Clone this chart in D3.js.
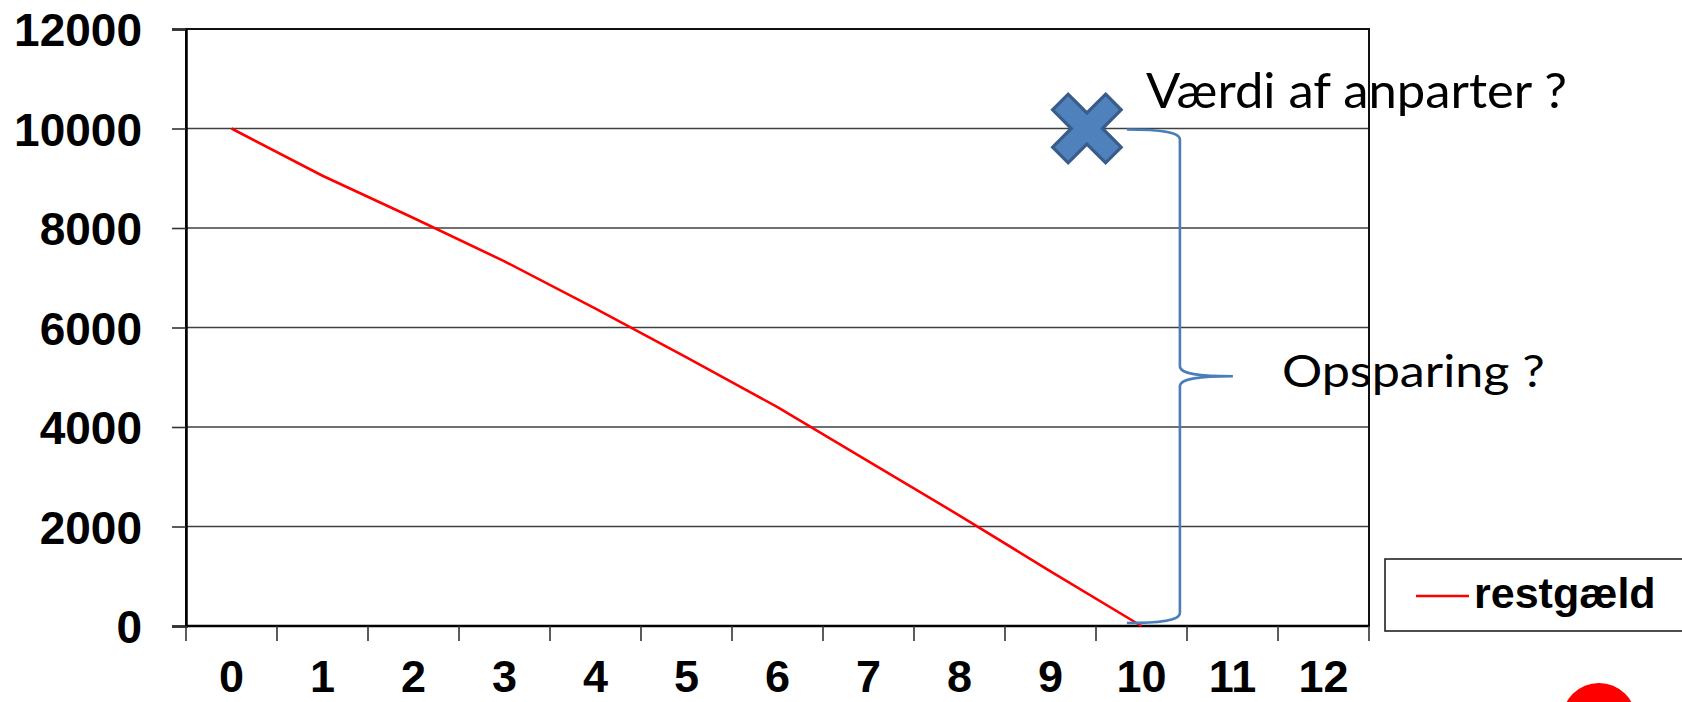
<!DOCTYPE html>
<html>
<head>
<meta charset="utf-8">
<script src="https://cdn.jsdelivr.net/npm/d3@7/dist/d3.min.js"></script>
<style>
  html, body { margin: 0; padding: 0; background: #fff; overflow: hidden; }
  svg { display: block; }
</style>
</head>
<body>
<svg id="chart" width="1682" height="702"></svg>
<script>
// ---- data ----
const categories = ["0","1","2","3","4","5","6","7","8","9","10","11","12"];
const restgaeldYears = ["0","1","2","3","4","5","6","7","8","9","10"];
const restgaeld = [10000, 9050, 8200, 7330, 6380, 5400, 4400, 3310, 2220, 1100, 0];
const yTicks = [0, 2000, 4000, 6000, 8000, 10000, 12000];
const seriesName = "restgæld";
const annoValueLabel = "Værdi af anparter ?";
const annoSavingLabel = "Opsparing ?";
const anparterValue = 10000;
const anparterPos = 9.4; // category-index position of the marker

// ---- layout ----
const svg = d3.select("#chart");
const L = 186, R = 1369, T = 29, B = 626;

const x = d3.scaleBand().domain(categories).range([L, R]).paddingInner(0).paddingOuter(0);
const xc = d => x(d) + x.bandwidth() / 2;
const xIdx = d3.scaleLinear().domain([-0.5, categories.length - 0.5]).range([L, R]);
const y = d3.scaleLinear().domain([0, 12000]).range([B, T]);

// gridlines
svg.append("g").selectAll("line").data(yTicks).join("line")
  .attr("x1", L).attr("x2", R)
  .attr("y1", d => y(d)).attr("y2", d => y(d))
  .attr("stroke", "#404040").attr("stroke-width", 1.7);

// plot border
svg.append("rect").attr("x", L).attr("y", T).attr("width", R - L).attr("height", B - T)
  .attr("fill", "none").attr("stroke", "#111").attr("stroke-width", 2);

// y axis
const yAxis = d3.axisLeft(y).tickValues(yTicks).tickSize(14).tickPadding(30).tickFormat(d3.format("d"));
const gy = svg.append("g").attr("transform", `translate(${L},0)`).call(yAxis);
gy.select(".domain").attr("stroke", "#000").attr("stroke-width", 2.5);
gy.selectAll(".tick line").attr("stroke", "#333").attr("stroke-width", 1.6);
gy.selectAll(".tick text")
  .attr("font-family", "'Liberation Sans', Arial, sans-serif")
  .attr("font-weight", "bold").attr("font-size", 46).attr("fill", "#000")
  .attr("x", -44).attr("dy", "0.36em");

// x axis (ticks at band boundaries, labels centered)
const gx = svg.append("g").attr("transform", `translate(0,${B})`);
gx.append("line").attr("x1", L).attr("x2", R).attr("y1", 0).attr("y2", 0)
  .attr("stroke", "#000").attr("stroke-width", 2.5);
const bounds = categories.map(c => x(c)).concat([x(categories[categories.length - 1]) + x.bandwidth()]);
gx.selectAll("line.tk").data(bounds).join("line").attr("class", "tk")
  .attr("x1", d => d).attr("x2", d => d).attr("y1", 0).attr("y2", 15)
  .attr("stroke", "#333").attr("stroke-width", 1.6);
gx.selectAll("text").data(categories).join("text")
  .attr("x", d => xc(d)).attr("y", 66)
  .attr("text-anchor", "middle")
  .attr("font-family", "'Liberation Sans', Arial, sans-serif")
  .attr("font-weight", "bold").attr("font-size", 45).attr("fill", "#000")
  .text(d => d);

// line
const line = d3.line().x((d, i) => xc(restgaeldYears[i])).y(d => y(d));
svg.append("path").datum(restgaeld)
  .attr("d", line).attr("fill", "none")
  .attr("stroke", "#FF0000").attr("stroke-width", 2.6);

// marker X
const mx = xIdx(anparterPos), my = y(anparterValue);
const a = 37.5, w = 11;
const plus = [[-w,-a],[w,-a],[w,-w],[a,-w],[a,w],[w,w],[w,a],[-w,a],[-w,w],[-a,w],[-a,-w],[-w,-w]];
svg.append("path")
  .attr("d", "M" + plus.map(p => p.join(",")).join("L") + "Z")
  .attr("transform", `translate(${mx},${my}) rotate(45)`)
  .attr("fill", "#4F81BD").attr("stroke", "#385D8A").attr("stroke-width", 3.2).attr("stroke-linejoin", "miter");

// brace
const bTop = y(anparterValue) + 1, bBot = y(0) - 3, bMid = (bTop + bBot) / 2;
const bx0 = mx + 40, bx1 = mx + 93, bTip = mx + 146;
const br = 10;
const bracePath = [
  `M${bx0},${bTop}`,
  `C${bx0 + 30},${bTop} ${bx1},${bTop + 2} ${bx1},${bTop + br}`,
  `L${bx1},${bMid - br}`,
  `C${bx1},${bMid - 2} ${bx1 + 20},${bMid} ${bTip},${bMid}`,
  `C${bx1 + 20},${bMid} ${bx1},${bMid + 2} ${bx1},${bMid + br}`,
  `L${bx1},${bBot - br}`,
  `C${bx1},${bBot - 2} ${bx0 + 30},${bBot} ${bx0},${bBot}`
].join(" ");
svg.append("path").attr("d", bracePath).attr("fill", "none")
  .attr("stroke", "#4A7EBB").attr("stroke-width", 2.6);

// annotation texts (Calibri-like look: taller glyphs, fitted width)
function fitText(txt, xPos, yPos, size, targetW) {
  return svg.append("text").attr("x", xPos).attr("y", yPos)
    .attr("font-family", "Lato, 'Open Sans', sans-serif")
    .attr("font-size", size).attr("fill", "#000")
    .attr("textLength", targetW).attr("lengthAdjust", "spacingAndGlyphs")
    .text(txt);
}
fitText(annoValueLabel, mx + 59, my - 21, 48, 421);
fitText(annoSavingLabel, bTip + 49, bMid + 11, 45, 263);

// legend
const lg = svg.append("g");
lg.append("rect").attr("x", 1385).attr("y", 559).attr("width", 320).attr("height", 72)
  .attr("fill", "#fff").attr("stroke", "#222").attr("stroke-width", 1.6);
lg.append("line").attr("x1", 1416).attr("x2", 1469).attr("y1", 596).attr("y2", 596)
  .attr("stroke", "#FF0000").attr("stroke-width", 2.6);
lg.append("text").attr("x", 1474).attr("y", 608)
  .attr("font-family", "'Liberation Sans', Arial, sans-serif")
  .attr("font-weight", "bold").attr("font-size", 43).attr("fill", "#000")
  .text(seriesName);

// red dot at bottom right
svg.append("circle").attr("cx", 1599).attr("cy", 720).attr("r", 37).attr("fill", "#FF0000");
</script>
</body>
</html>
